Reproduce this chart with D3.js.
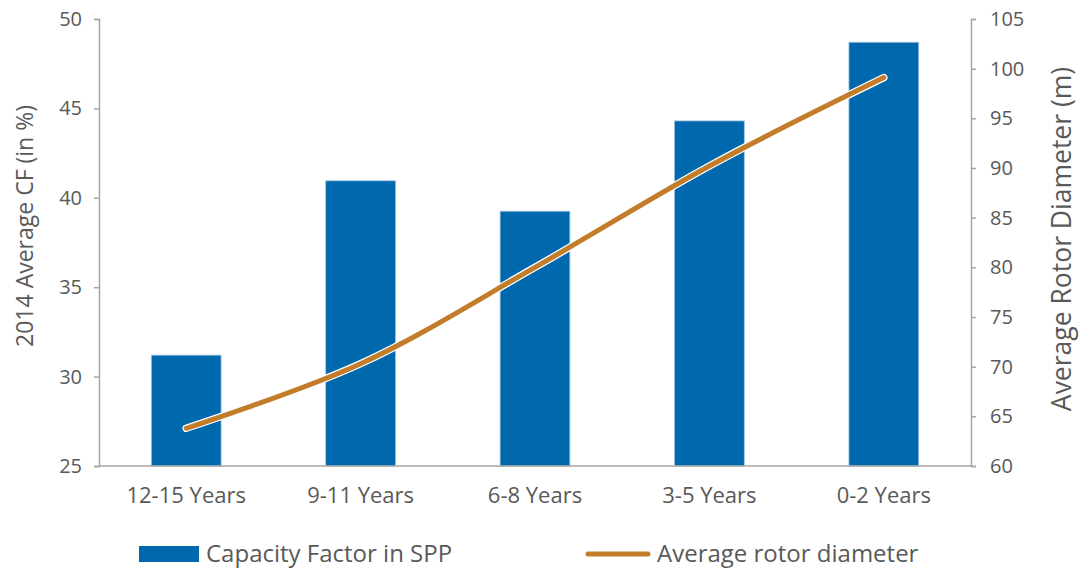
<html>
<head>
    <meta content="text/html;charset=utf-8" http-equiv="Content-Type"/>
    <style>
        body { margin: 0; background: #fff; }
        text { font-family: "Open Sans", Lato, sans-serif; fill: #595959; }
    </style>
</head>
<body>
<svg id="chart" width="1088" height="569"></svg>

<script src="https://d3js.org/d3.v7.min.js"></script>
<script>
    const categories = ["12-15 Years", "9-11 Years", "6-8 Years", "3-5 Years", "0-2 Years"];
    const capacityFactor = [31.2, 40.95, 39.25, 44.3, 48.7];
    const rotorDiameter = [63.8, 70.3, 80.0, 90.2, 99.1];
    const leftTicks = [25, 30, 35, 40, 45, 50];
    const rightTicks = [60, 65, 70, 75, 80, 85, 90, 95, 100, 105];

    const plotLeft = 99, plotRight = 971, plotTop = 19, plotBottom = 466;
    const axisColor = "#a6a6a6";
    const barColor = "#0068ad";
    const lineColor = "#c27d2b";

    const svg = d3.select("#chart");

    const x = d3.scaleBand()
        .domain(categories)
        .range([plotLeft, plotRight])
        .paddingInner(0.6)
        .paddingOuter(0.3);
    const yL = d3.scaleLinear().domain([25, 50]).range([plotBottom, plotTop]);
    const yR = d3.scaleLinear().domain([60, 105]).range([plotBottom, plotTop]);

    // bars
    svg.append("g").selectAll("rect")
        .data(categories)
        .enter()
        .append("rect")
        .attr("x", d => x(d))
        .attr("width", x.bandwidth())
        .attr("y", (d, i) => yL(capacityFactor[i]))
        .attr("height", (d, i) => yL(25) - yL(capacityFactor[i]))
        .attr("fill", barColor)
        .attr("stroke", "#9cc3e0")
        .attr("stroke-width", 0.8);

    // left axis
    const gL = svg.append("g").attr("transform", `translate(${plotLeft},0)`)
        .call(d3.axisLeft(yL).tickValues(leftTicks).tickSize(5).tickPadding(12));
    // right axis
    const gR = svg.append("g").attr("transform", `translate(${plotRight},0)`)
        .call(d3.axisRight(yR).tickValues(rightTicks).tickSize(5).tickPadding(14));
    // bottom axis
    const gB = svg.append("g").attr("transform", `translate(0,${plotBottom})`)
        .call(d3.axisBottom(x).tickSize(0).tickPadding(21));

    [gL, gR, gB].forEach(g => {
        g.selectAll("path, line").attr("stroke", axisColor).attr("stroke-width", 1.5);
        g.selectAll("text").style("font-size", "20px").attr("fill", "#595959");
    });
    gB.selectAll("text").style("font-size", "22px");
    gB.select(".domain").attr("d", `M${plotLeft},0H${plotRight}`);

    // line
    const line = d3.line()
        .x((d, i) => x(categories[i]) + x.bandwidth() / 2)
        .y(d => yR(d))
        .curve(d3.curveCatmullRom.alpha(0.5));
    svg.append("path")
        .datum(rotorDiameter)
        .attr("d", line)
        .attr("fill", "none")
        .attr("stroke", "#fff")
        .attr("stroke-width", 7.5)
        .attr("stroke-linecap", "round");
    svg.append("path")
        .datum(rotorDiameter)
        .attr("d", line)
        .attr("fill", "none")
        .attr("stroke", lineColor)
        .attr("stroke-width", 5)
        .attr("stroke-linecap", "round");

    // axis titles
    svg.append("text")
        .attr("transform", `translate(33,226) rotate(-90)`)
        .attr("text-anchor", "middle")
        .style("font-size", "23px")
        .text("2014 Average CF (in %)");
    svg.append("text")
        .attr("transform", `translate(1071,239) rotate(-90)`)
        .attr("text-anchor", "middle")
        .style("font-size", "26.5px")
        .text("Average Rotor Diameter (m)");

    // legend
    const leg = svg.append("g");
    leg.append("rect")
        .attr("x", 139).attr("y", 546).attr("width", 60).attr("height", 16)
        .attr("fill", barColor);
    leg.append("text")
        .attr("x", 206).attr("y", 562)
        .style("font-size", "24px")
        .text("Capacity Factor in SPP");
    leg.append("line")
        .attr("x1", 588).attr("x2", 648).attr("y1", 554).attr("y2", 554)
        .attr("stroke", lineColor).attr("stroke-width", 5).attr("stroke-linecap", "round");
    leg.append("text")
        .attr("x", 657).attr("y", 562)
        .style("font-size", "24px")
        .text("Average rotor diameter");
</script>
</body>
</html>
